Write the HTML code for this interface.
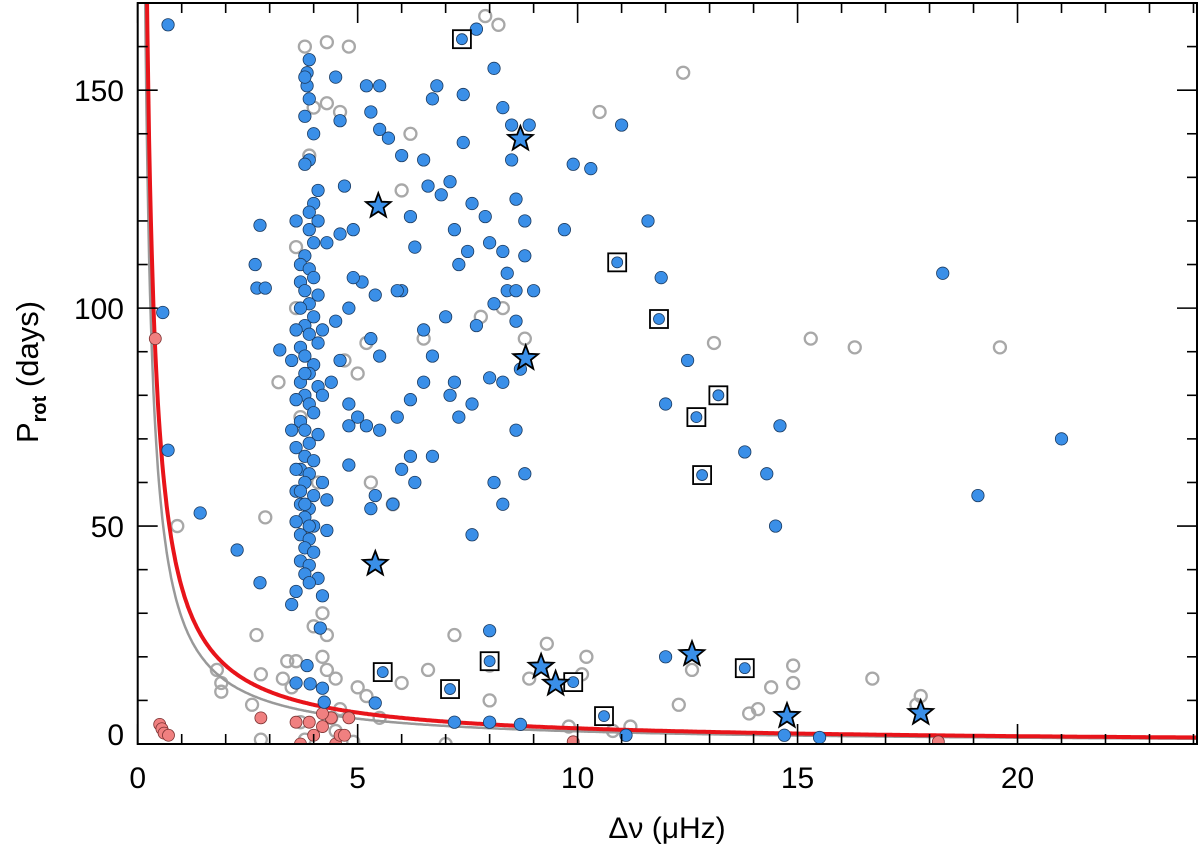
<!DOCTYPE html>
<html><head><meta charset="utf-8"><style>
html,body{margin:0;padding:0;background:#fff;}
svg text{font-family:"Liberation Sans",sans-serif;fill:#000;}
</style></head><body>
<svg id="chart" width="1200" height="847" xmlns="http://www.w3.org/2000/svg"><defs><clipPath id="pc"><rect x="137.7" y="3" width="1059.3" height="741"/></clipPath></defs></svg>
<script>
const blueX=[0.69,0.57,0.69,1.42,2.26,2.78,2.67,2.71,2.9,2.78,3.23,3.85,3.85,
4.5,4.6,4.7,4.9,5.2,5.3,5.5,5.5,5.7,6,6.2,6.3,6.5,6.6,6.7,6.8,6.9,7.1,7.4,7.4,7.6,7.7,7.9,8.1,8.3,8.5,8.8,8.6,8.9,8.5,7.5,7.2,8,8.3,8.4,8.1,7.7,7.0,7.3,6.7,6.5,6.0,5.9,5.4,5.3,5.5,4.8,5.1,4.9,4.6,4.5,4.6,4.4,5.2,5.0,4.8,5.5,5.9,6.2,6.5,7.1,7.2,7.3,7.6,8.0,8.3,8.6,8.7,8.4,8.8,9.0,8.6,8.6,8.1,8.3,7.6,6.3,6.0,6.2,5.4,5.3,5.8,4.8,4.8,9.7,10.3,9.9,11.0,11.6,11.9,12.0,12.5,13.8,14.3,14.5,14.6,18.3,19.1,21.0,8.8,6.7,
3.85,3.6,3.92,4.2,4.24,4.15,5.4,7.2,8.0,8.0,8.7,11.1,14.7,15.5,12.0,
3.9,3.8,3.9,3.8,4.0,3.9,3.8,4.1,4.0,3.9,4.1,3.9,4.0,3.8,3.7,3.9,4.0,3.7,3.8,4.1,3.9,3.7,4.0,3.8,3.9,4.1,3.7,3.8,4.0,3.9,3.7,4.1,3.8,3.6,3.9,4.0,3.7,3.8,4.1,3.9,3.6,3.8,4.0,3.7,3.9,3.8,3.6,4.0,3.7,3.9,3.8,3.6,4.0,3.7,3.9,3.8,4.0,3.7,3.9,3.8,4.1,3.9,3.6,4.2,3.5,4.2,4.3,4.3,4.2,4.3,3.5,3.6,3.5,4.2,3.6,3.7,3.8,3.9,3.6,3.8];
const blueP=[165,99,67.4,53,44.5,37,110,104.6,104.6,119,90.4,154,151,
153,143,128,118,151,145,151,141,139,135,121,114,134,128,148,151,126,129,149,138,124,164,121,155,146,134,120,125,142,142,113,118,115,113,104,101,96,98,110,89,95,104,104,103,93,89,100,106,107,117,97,88,83,73,75,78,72,75,79,83,80,83,75,78,84,83,72,86,108,112,104,104,97,60,55,48,60,63,66,57,54,55,73,64,118,132,133,142,120,107,78,88,67,62,50,73,108,57,70,62,66,
18,14,13.8,12.8,9.6,26.6,9.4,5,5,26,4.5,2,2,1.5,20,
157,153,148,144,140,134,133,127,124,122,120,118,115,112,110,109,107,106,104,103,101,100,98,96,94,92,91,89,87,85,83,82,80,79,78,76,74,72,71,69,68,66,65,63,62,60,58,57,55,54,52,51,50,48,47,45,44,42,41,39,38,37,35,34,32,60,49,56,95,115,72,95,88,80,120,58,55,50,63,85];
const sqX=[7.37,10.9,11.85,12.7,13.2,12.83,5.57,7.1,8.0,9.9,10.6,13.8];
const sqP=[161.7,110.5,97.5,75,80,61.7,16.5,12.6,19,14.2,6.4,17.4];
const starX=[8.7,5.47,8.82,5.4,9.17,9.5,12.6,14.76,17.8];
const starP=[138.8,123.4,88.5,41.3,17.7,13.8,20.6,6.4,7.1];
const grayX=[3.8,4.3,4.8,4.3,4.6,4.0,6.2,6.0,7.9,8.2,10.5,12.4,8.8,8.3,7.8,6.5,5.2,5.0,4.7,5.3,5.8,3.2,3.9,3.6,3.6,13.1,15.3,16.3,19.6,0.9,2.9,3.7,4.1,3.8,
2.7,3.4,3.6,4.2,4.0,4.3,4.2,4.3,1.8,1.9,1.9,2.8,2.6,3.3,3.5,4.5,5.0,5.2,4.4,3.7,3.8,4.5,2.8,7.2,6.6,7.1,8.0,7.0,8.0,9.3,10.2,10.1,8.9,9.8,10.8,11.2,12.3,12.6,13.9,14.1,14.4,14.9,14.9,16.7,17.8,17.7,6.0,5.5,4.9,4.6];
const grayP=[160,161,160,147,145,146,140,127,167,165,145,154,93,100,98,93,92,85,88,60,55,83,135,114,100,92,93,91,91,50,52,75,60,50,
25,19,19,30,27,25,20,17,17,14,12,16,9,15,13,15,13,11,6,5,1,3,1,25,17,12,10,0,18,23,20,16,15,4,3,4,9,17,7,8,13,14,18,15,11,9,14,6,0.5,8];
const redX=[0.4,0.5,0.55,0.6,0.7,2.8,3.6,3.7,4.0,4.2,4.4,4.5,4.6,4.8,4.7,4.2,9.9,18.2,3.9];
const redP=[93,4.5,3.5,2.5,2,6,5,0,2,4,6,0,2,6,2,7,0.5,0.5,5];
const xTicks=[0,5,10,15,20];
const yTicks=[0,50,100,150];
const redC=36, grayC=29;

const svg=document.getElementById('chart');
const NS='http://www.w3.org/2000/svg';
const L=137.7,R=1197,T=3,B=744;
const X0=0,X1=24.08,Y0=0,Y1=170;
function sx(v){return L+(v-X0)/(X1-X0)*(R-L);}
function sy(v){return B-(v-Y0)/(Y1-Y0)*(B-T);}
const g=document.createElementNS(NS,'g');g.setAttribute('clip-path','url(#pc)');svg.appendChild(g);


function mk(tag,attrs,parent){const e=document.createElementNS(NS,tag);for(const k in attrs)e.setAttribute(k,attrs[k]);(parent||svg).appendChild(e);return e;}

function curve(c,color,w,name){
  let d='';
  for(let x=0.1;x<=X1+0.1;x+=0.02){const p=c/x;if(p>Y1+40)continue;d+=(d?'L':'M')+sx(x).toFixed(1)+','+sy(p).toFixed(1);}
  const e=mk('path',{d:d,fill:'none',stroke:color,'stroke-width':w},g);
  
  
}
for(let i=0;i<grayX.length;i++){
  const e=mk('circle',{cx:sx(grayX[i]),cy:sy(grayP[i]),r:6,fill:'none',stroke:'#a8a8a8','stroke-width':2.3},g);
  
  
}
curve(grayC,'#999',2.5,'gray-curve');
curve(redC,'#e8141a',4,'red-curve');
for(let i=0;i<redX.length;i++){
  const e=mk('circle',{cx:sx(redX[i]),cy:sy(redP[i]),r:6,fill:'#f08080',stroke:'#7a3030','stroke-width':0.8},g);
  
  
}
for(let i=0;i<blueX.length;i++){
  const e=mk('circle',{cx:sx(blueX[i]),cy:sy(blueP[i]),r:6.2,fill:'#3a8fe8',stroke:'#1a3a60','stroke-width':0.8},g);
  
  
}
for(let i=0;i<sqX.length;i++){
  const x=sx(sqX[i]),y=sy(sqP[i]);
  const s=mk('rect',{x:x-9,y:y-9,width:18,height:18,fill:'#fff',stroke:'#000','stroke-width':1.8},g);
  
  
  const e=mk('circle',{cx:x,cy:y,r:5.5,fill:'#3a8fe8',stroke:'#1a3a60','stroke-width':0.8},g);
  
  
}
for(let i=0;i<starX.length;i++){
  const x=sx(starX[i]),y=sy(starP[i]);let pts=[];
  for(let k=0;k<10;k++){const a=-Math.PI/2+k*Math.PI/5;const r=k%2?5.5:13;pts.push((x+r*Math.cos(a)).toFixed(1)+','+(y+r*Math.sin(a)).toFixed(1));}
  const e=mk('polygon',{points:pts.join(' '),fill:'#3a8fe8',stroke:'#000','stroke-width':1.8},g);
  
  
}
const f=mk('rect',{x:L,y:T,width:R-L,height:B-T,fill:'none',stroke:'#000','stroke-width':2});


for(let v=0;v<=24;v+=1){
  const big=v%5===0,len=big?20:10;
  const a=mk('line',{x1:sx(v),x2:sx(v),y1:B,y2:B-len,stroke:'#000','stroke-width':1.6});
  
  
  const b=mk('line',{x1:sx(v),x2:sx(v),y1:T,y2:T+len,stroke:'#000','stroke-width':1.6});
  
  
}
for(let v=0;v<=170;v+=10){
  const big=v%50===0,len=big?20:10;
  const a=mk('line',{x1:L,x2:L+len,y1:sy(v),y2:sy(v),stroke:'#000','stroke-width':1.6});
  
  
  const b=mk('line',{x1:R,x2:R-len,y1:sy(v),y2:sy(v),stroke:'#000','stroke-width':1.6});
  
  
}
for(const v of xTicks){
  const t=mk('text',{x:sx(v),y:788,'font-size':30,'text-anchor':'middle'});t.textContent=v;
  
  
}
for(const v of yTicks){
  const t=mk('text',{x:124,y:sy(v)+(v===0?1:11),'font-size':30,'text-anchor':'end'});t.textContent=v;
  
  
}
const xt=mk('text',{x:667,y:838,'font-size':30,'text-anchor':'middle'});
xt.textContent='\u0394\u03BD  (\u03BCHz)';


const yt=mk('text',{transform:'translate(38,372) rotate(-90)','font-size':31,'text-anchor':'middle'});
yt.innerHTML='P<tspan font-size="20" font-weight="bold" dy="8">rot</tspan><tspan dy="-8">  (days)</tspan>';


</script>
</body></html>
